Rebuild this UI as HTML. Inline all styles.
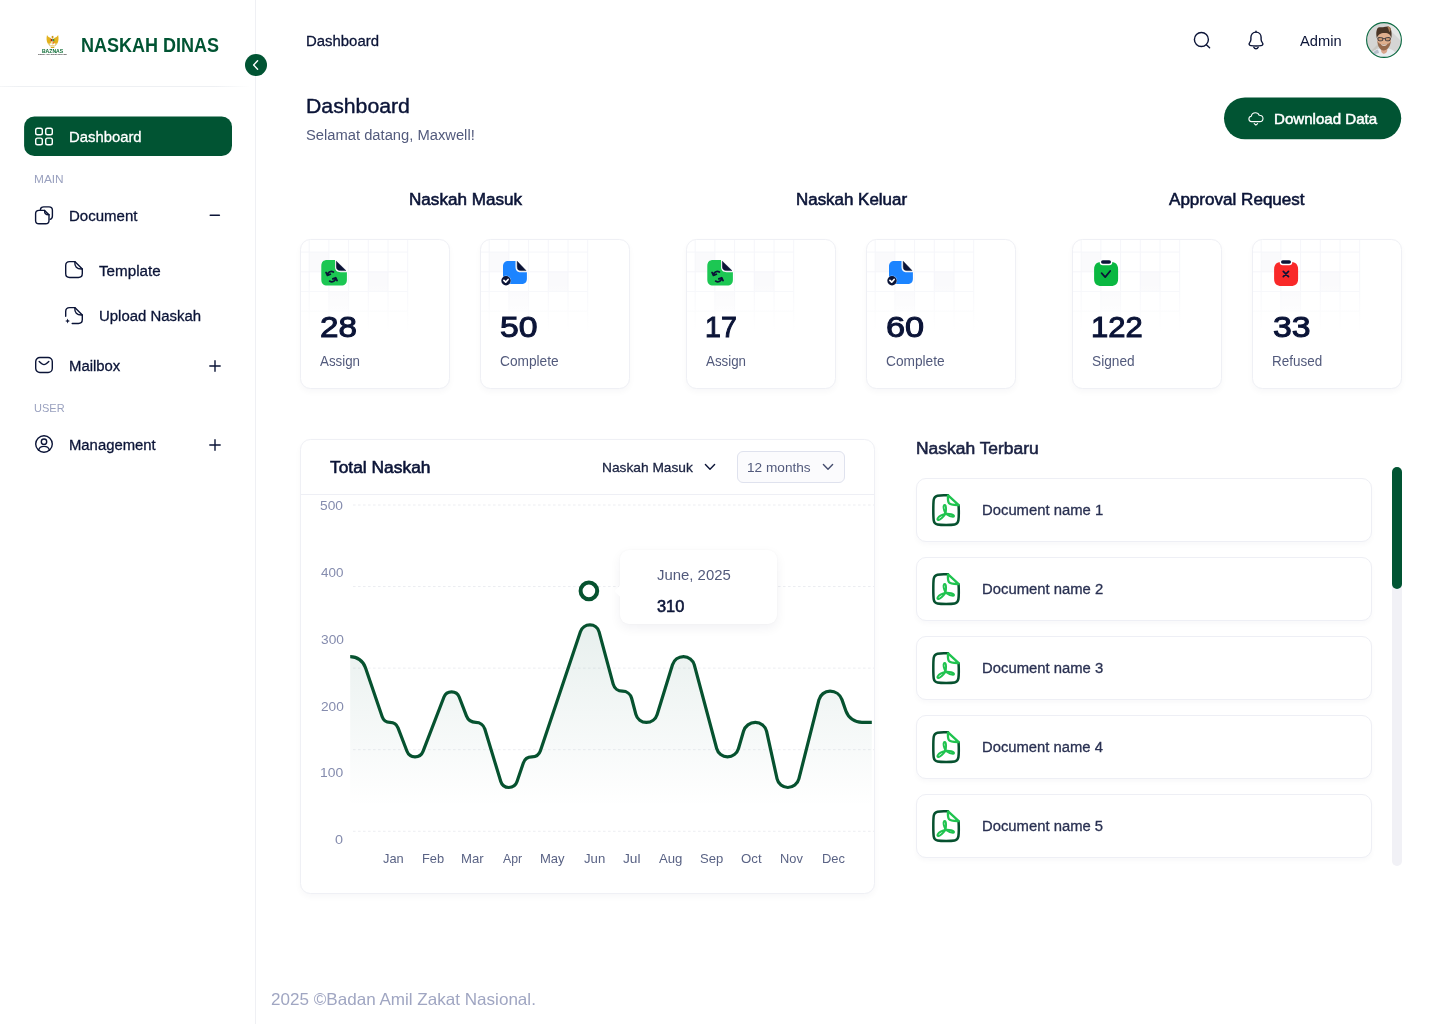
<!DOCTYPE html>
<html lang="id">
<head>
<meta charset="utf-8">
<title>Naskah Dinas - Dashboard</title>
<style>
*{box-sizing:border-box}
html,body{margin:0;padding:0;background:#fff}
body{width:1440px;height:1024px;position:relative;overflow:hidden;font-family:"Liberation Sans",sans-serif;-webkit-font-smoothing:antialiased}
.t{position:absolute;white-space:nowrap;margin:0;padding:0;transform-origin:0 0}
.a{position:absolute;display:block}
svg{position:absolute;overflow:visible}
.card{position:absolute;background:#fff;border:1px solid #eff0f5;border-radius:10.5px;box-shadow:0 3px 6px rgba(20,25,60,.03);overflow:hidden}
.item{position:absolute;left:916px;width:456px;height:64px;background:#fff;border:1px solid #eeeff5;border-radius:10px;box-shadow:0 3px 5px rgba(20,25,60,.028)}
</style>
</head>
<body>
<div class="a" style="left:255px;top:0;width:1px;height:1024px;background:#eff0f4"></div>
<div class="a" style="left:0;top:86px;width:250px;height:1px;background:linear-gradient(90deg,rgba(238,240,243,.6),#eef0f3 8%,#eef0f3 86%,rgba(238,240,243,0))"></div>
<svg style="left:37px;top:33px" width="31" height="24" viewBox="0 0 31 24">
<defs><filter id="lb" x="-20%" y="-20%" width="140%" height="140%"><feGaussianBlur stdDeviation=".28"/></filter></defs>
<g filter="url(#lb)">
<path d="M10 1.9 C10.7 3.4 12.2 4.5 13.9 5 L14.7 9.2 C13.6 10.7 11.9 11.1 10.7 10.5 C9.4 8 9.3 4.8 10 1.9 Z" fill="#e3b21b"/>
<path d="M21.1 1.9 C20.4 3.4 18.9 4.5 17.2 5 L16.4 9.2 C17.5 10.7 19.2 11.1 20.4 10.5 C21.7 8 21.8 4.8 21.1 1.9 Z" fill="#e3b21b"/>
<path d="M14.7 2.9 H16.4 V5.4 H14.7 Z" fill="#c9961a"/>
<path d="M12 10.6 L13.6 12.2 L12.9 12.9 L11.3 11.4 Z M19.1 10.6 L17.5 12.2 L18.2 12.9 L19.8 11.4 Z" fill="#d9c06a"/>
<path d="M13.5 12.6 H17.6 L17.2 15 H13.9 Z" fill="#d8aa1c"/>
<path d="M13.3 13.2 H17.8 V14 H13.3 Z" fill="#f3f1ea"/>
<path d="M13.8 5.9 H15.55 V8.4 H13.8 Z" fill="#b5121f"/>
<path d="M15.55 5.9 H17.3 V8.4 H15.55 Z" fill="#2f9a3c"/>
<path d="M13.8 8.4 H15.55 V11.4 C14.5 11 13.8 10.2 13.8 9.2 Z" fill="#f0e9a8"/>
<path d="M15.55 8.4 H17.3 V9.2 C17.3 10.2 16.6 11 15.55 11.4 Z" fill="#ee7a1c"/>
</g>
<text x="4.9" y="19.9" textLength="21.3" lengthAdjust="spacingAndGlyphs" font-family="Liberation Sans, sans-serif" font-weight="700" font-size="5.6" fill="#0a6a33">BAZNAS</text>
<text x="1" y="22.3" textLength="28.9" lengthAdjust="spacingAndGlyphs" font-family="Liberation Sans, sans-serif" font-weight="700" font-size="2.1" fill="#3b3b3b">Badan Amil Zakat Nasional</text>
</svg>
<div class="a" style="left:245px;top:54px;width:22px;height:22px;border-radius:50%;background:#015433"></div>
<svg style="left:245px;top:54px" width="22" height="22" viewBox="0 0 22 22"><path d="M12.6 6.8 L8.6 11 L12.6 15.2" fill="none" stroke="#fff" stroke-width="1.4" stroke-linecap="round" stroke-linejoin="round"/></svg>
<svg style="left:24px;top:116px" width="208" height="41" viewBox="0 0 208 41"><rect x="0.1" y="0.4" width="207.9" height="39.7" rx="10.3" fill="#015433"/></svg>
<svg style="left:34px;top:126px" width="20" height="20" viewBox="0 0 20 20" fill="none" stroke="#fff" stroke-width="1.4"><rect x="1.7" y="2.2" width="6.6" height="6.6" rx="1.8"/><rect x="11.7" y="2.2" width="6.6" height="6.6" rx="1.8"/><rect x="1.7" y="12.1" width="6.6" height="6.6" rx="1.8"/><rect x="11.7" y="12.1" width="6.6" height="6.6" rx="1.8"/></svg>
<svg style="left:34px;top:205px" width="20" height="20" viewBox="0 0 20 20" fill="none" stroke="#0b1437" stroke-width="1.4" stroke-linecap="round" stroke-linejoin="round"><path d="M6.4 4.6 C6.6 2.8 7.8 1.9 9.8 1.9 H15 C17.2 1.9 18.4 3.1 18.4 5.3 V11 C18.4 12.8 17.6 13.9 16.2 14.3"/><path d="M10.6 5.4 H5 C2.8 5.4 1.6 6.6 1.6 8.8 V15.4 C1.6 17.6 2.8 18.8 5 18.8 H11.6 C13.8 18.8 15 17.6 15 15.4 V9.8 Z"/><path d="M10.6 5.4 C10.4 8.6 11.6 9.9 15 9.8"/></svg>
<svg style="left:64px;top:260.4px" width="20" height="20" viewBox="0 0 20 20" fill="none" stroke="#0b1437" stroke-width="1.4" stroke-linecap="round" stroke-linejoin="round"><path d="M10.8 1.6 H5.6 C3 1.6 1.7 2.9 1.7 5.5 V13.6 C1.7 16.2 3 17.5 5.6 17.5 H14.4 C17 17.5 18.3 16.2 18.3 13.6 V9 Z"/><path d="M10.8 1.6 C10.5 6.6 12.6 9.3 18.3 9"/></svg>
<svg style="left:64px;top:306px" width="20" height="20" viewBox="0 0 20 20" fill="none" stroke="#0b1437" stroke-width="1.4" stroke-linecap="round" stroke-linejoin="round"><path d="M1.7 10.2 V5.5 C1.7 2.9 3 1.6 5.6 1.6 H10.8 L18.3 9 V13.6 C18.3 16.2 17 17.5 14.4 17.5 H8.2"/><path d="M10.8 1.6 C10.5 6.6 12.6 9.3 18.3 9"/><path d="M3.6 12.6 L4.3 14.3 L6 15 L4.3 15.7 L3.6 17.4 L2.9 15.7 L1.2 15 L2.9 14.3 Z" fill="#0b1437" stroke="none"/></svg>
<svg style="left:205px;top:206px" width="20" height="20" viewBox="0 0 20 20" fill="none" stroke="#0b1437" stroke-width="1.4" stroke-linecap="round"><path d="M5.2 9.2 H14.4"/></svg>
<svg style="left:204.8px;top:355.8px" width="20" height="20" viewBox="0 0 20 20" fill="none" stroke="#0b1437" stroke-width="1.4" stroke-linecap="round"><path d="M4.8 10 H15.2 M10 4.8 V15.2"/></svg>
<svg style="left:204.8px;top:434.5px" width="20" height="20" viewBox="0 0 20 20" fill="none" stroke="#0b1437" stroke-width="1.4" stroke-linecap="round"><path d="M4.8 10 H15.2 M10 4.8 V15.2"/></svg>
<svg style="left:34px;top:355.3px" width="20" height="20" viewBox="0 0 20 20" fill="none" stroke="#0b1437" stroke-width="1.4" stroke-linecap="round" stroke-linejoin="round"><rect x="1.7" y="2.5" width="16.6" height="15" rx="4.2"/><path d="M5.2 6.5 C7.4 8.6 8.6 9.6 10 9.6 C11.4 9.6 12.6 8.6 14.8 6.5"/></svg>
<svg style="left:34px;top:434.3px" width="20" height="20" viewBox="0 0 20 20" fill="none" stroke="#0b1437" stroke-width="1.4" stroke-linecap="round" stroke-linejoin="round"><circle cx="10" cy="10" r="8.3"/><circle cx="10" cy="7.7" r="2.7"/><path d="M4.6 16.2 C5.2 13.6 7.2 12.4 10 12.4 C12.8 12.4 14.8 13.6 15.4 16.2"/></svg>
<svg style="left:1192px;top:30px" width="20" height="20" viewBox="0 0 20 20" fill="none" stroke="#0b1437" stroke-width="1.4" stroke-linecap="round"><circle cx="9.4" cy="9.5" r="7"/><path d="M14.6 14.9 L17.6 17.7"/></svg>
<svg style="left:1246px;top:30px" width="20" height="20" viewBox="0 0 20 20" fill="none" stroke="#0b1437" stroke-width="1.4" stroke-linecap="round" stroke-linejoin="round"><path d="M10 2.1 C6.9 2.1 4.9 4.4 4.9 7.3 V9.6 C4.9 10.6 4.5 11.7 3.7 12.6 C2.6 13.9 3.1 15.4 4.8 15.6 C8.2 16.1 11.8 16.1 15.2 15.6 C16.9 15.4 17.4 13.9 16.3 12.6 C15.5 11.7 15.1 10.6 15.1 9.6 V7.3 C15.1 4.4 13.1 2.1 10 2.1 Z"/><path d="M10 1.2 V2.1"/><path d="M7.8 17.2 C8.3 18.3 9.1 18.7 10 18.7 C10.9 18.7 11.7 18.3 12.2 17.2"/></svg>
<svg style="left:1366px;top:22px" width="36" height="36" viewBox="0 0 36 36">
<defs><clipPath id="av"><circle cx="18" cy="18" r="17"/></clipPath><filter id="ab" x="-10%" y="-10%" width="120%" height="120%"><feGaussianBlur stdDeviation=".55"/></filter></defs>
<circle cx="18" cy="18" r="17.4" fill="#d6d6d5"/>
<g clip-path="url(#av)"><g filter="url(#ab)">
<rect x="-2" y="-2" width="40" height="40" fill="#d5d5d4"/>
<path d="M20 4 L36 20 V12 L26 2 Z" fill="#e4e6e5"/>
<path d="M4 30 L12 22 L13 24 L6 32 Z" fill="#c9c7c2"/>
<path d="M3 38 C4 30 9 27.2 14 26.4 H22 C27 27.2 31 30 32 38 Z" fill="#e9edf1"/>
<path d="M6 33 C7 30 9 28.4 12 27.6 L13 31 Z" fill="#b9c0cc"/>
<path d="M14.2 24 H21.6 L21.2 29 C20 32 17 33 15.4 30 Z" fill="#d9a58c"/>
<ellipse cx="18.1" cy="17.6" rx="6.9" ry="8.6" fill="#dfae8d"/>
<path d="M11.4 18.5 C11.4 25 14.4 28.2 17.6 28.4 C21 28.4 24.6 25.4 24.8 18.6 C24 21.4 22.2 22.4 18.2 22.4 C14.2 22.4 12.2 21.4 11.4 18.5 Z" fill="#8a5c40" opacity=".85"/>
<path d="M14.8 22.3 C16.4 24.4 19.6 24.4 21.4 22.2 C19.4 22.8 16.8 22.8 14.8 22.3 Z" fill="#f3e9e4"/>
<path d="M10.8 16.2 C9.6 10.6 10.6 6.8 12.4 5.6 C14 4.6 16 5.6 18 5 C20.4 4.2 23.6 3.8 24.6 6.4 C25.8 9.4 25.8 12.8 25.4 16 C24.4 12.6 22.6 10.8 18.4 10.9 C14.4 11 12 12.4 10.8 16.2 Z" fill="#4b3526"/>
<path d="M21 4.6 C22.6 4.2 24 4.8 24.6 6.4 C24.8 8 24.2 9.4 23.2 10 C22.8 8 22.2 6.2 21 4.6 Z" fill="#a87a55"/>
<path d="M11.8 15.9 C13.4 15.3 15.4 15.4 16.9 16.1 L16.7 18.4 C15.2 19 13.4 19 12.2 18.4 Z M19.3 16.1 C20.8 15.4 22.8 15.3 24.4 15.9 L24 18.4 C22.8 19 21 19 19.5 18.4 Z" fill="#c8956f" stroke="#33333a" stroke-width=".9"/>
<path d="M16.9 16.6 H19.3" stroke="#33333a" stroke-width=".8"/>
</g></g>
<circle cx="18" cy="18" r="17.4" fill="none" stroke="#0b6a42" stroke-width="1.1"/>
</svg>
<svg style="left:1224px;top:97px" width="178" height="43" viewBox="0 0 178 43"><rect x="0" y="0.4" width="177.2" height="41.9" rx="20.95" fill="#015433"/></svg>
<svg style="left:1247px;top:110px" width="18" height="18" viewBox="0 0 18 18" fill="none" stroke="#fff" stroke-width="1.1" stroke-linecap="round" stroke-linejoin="round"><path d="M4.6 11.6 C2.9 11.5 1.9 10.3 1.9 8.9 C1.9 7.5 2.9 6.4 4.3 6.2 C4.6 4.2 6.3 2.7 8.4 2.7 C10.1 2.7 11.6 3.7 12.2 5.2 C14.3 5.2 16 6.6 16 8.5 C16 10.3 14.6 11.6 12.7 11.6 Z"/><path d="M7.2 13.7 L8.9 15.2 L10.6 13.7"/></svg>
<div class="card" style="left:300px;top:239px;width:150px;height:150px"><svg style="left:-1px;top:-1px" width="150" height="150" viewBox="0 0 150 150">
<defs><linearGradient id="gf0" x1="0" y1="0" x2="0" y2="1"><stop offset="0" stop-color="#fff" stop-opacity="0"/><stop offset=".45" stop-color="#fff" stop-opacity="0"/><stop offset="1" stop-color="#fff" stop-opacity="1"/></linearGradient></defs>
<g fill="#fafafc"><rect x="9.2" y="13.1" width="19.7" height="19.7"/><rect x="68.3" y="32.8" width="19.7" height="19.7"/><rect x="28.9" y="52.5" width="19.7" height="19.7"/></g>
<g stroke="#f5f6fa" stroke-width="1" fill="none"><path d="M9.2 0V92M28.9 0V92M48.6 0V92M68.3 0V92M88 0V92M107.7 0V92"/><path d="M0 13.1H108M0 32.8H108M0 52.5H108M0 72.2H108"/></g>
<rect x="0" y="0" width="110" height="93" fill="url(#gf0)"/>
</svg><svg style="left:19px;top:18px" width="28" height="28" viewBox="0 0 28 28">
<path d="M7.3 2 H15 V8.6 C15 12.4 16.9 14.3 20.7 14.3 H26.9 V21.6 C26.9 25.6 24.9 27.6 20.9 27.6 H7.3 C3.3 27.6 1.3 25.6 1.3 21.6 V8 C1.3 4 3.3 2 7.3 2 Z" fill="#1cc753"/>
<path d="M16.3 3.2 L25.9 12.6 H20.6 C17.7 12.6 16.3 11.2 16.3 8.3 Z" fill="#0b1437" stroke="#0b1437" stroke-width=".5" stroke-linejoin="round"/>
<g fill="none" stroke="#0b1437" stroke-width="1.7" stroke-linecap="round" stroke-linejoin="round">
<path d="M13.4 14.1 C11.4 12.9 9.2 13.6 7.6 15.6"/><path d="M6 14.4 L7.4 17.4 L10.4 16.2" fill="#0b1437"/>
<path d="M9.6 23.1 C11.6 24.3 14 23.6 15.6 21.4"/><path d="M17.1 22.6 L15.7 19.7 L12.8 20.9" fill="#0b1437"/>
</g></svg></div>
<div class="card" style="left:480px;top:239px;width:150px;height:150px"><svg style="left:-1px;top:-1px" width="150" height="150" viewBox="0 0 150 150">
<defs><linearGradient id="gf1" x1="0" y1="0" x2="0" y2="1"><stop offset="0" stop-color="#fff" stop-opacity="0"/><stop offset=".45" stop-color="#fff" stop-opacity="0"/><stop offset="1" stop-color="#fff" stop-opacity="1"/></linearGradient></defs>
<g fill="#fafafc"><rect x="9.2" y="13.1" width="19.7" height="19.7"/><rect x="68.3" y="32.8" width="19.7" height="19.7"/><rect x="28.9" y="52.5" width="19.7" height="19.7"/></g>
<g stroke="#f5f6fa" stroke-width="1" fill="none"><path d="M9.2 0V92M28.9 0V92M48.6 0V92M68.3 0V92M88 0V92M107.7 0V92"/><path d="M0 13.1H108M0 32.8H108M0 52.5H108M0 72.2H108"/></g>
<rect x="0" y="0" width="110" height="93" fill="url(#gf1)"/>
</svg><svg style="left:19px;top:18px" width="28" height="28" viewBox="0 0 28 28">
<path d="M8.6 2.9 H15.5 V8.8 C15.5 12.5 17.3 14.3 21 14.3 H26.9 V20.5 C26.9 24.2 25 26.1 21.3 26.1 H8.6 C4.9 26.1 3 24.2 3 20.5 V8.5 C3 4.8 4.9 2.9 8.6 2.9 Z" fill="#1c84ff"/>
<path d="M17.2 3.3 L26 12.6 H21 C18.4 12.6 17.2 11.4 17.2 8.8 Z" fill="#0b1437" stroke="#0b1437" stroke-width=".5" stroke-linejoin="round"/>
<circle cx="6" cy="22.7" r="5.2" fill="#fff" opacity=".55"/>
<circle cx="6" cy="22.7" r="4.7" fill="#0b1437"/>
<path d="M3.9 22.3 L5.7 24.2 L8.1 21.5" fill="none" stroke="#fff" stroke-width="1.7" stroke-linecap="round" stroke-linejoin="round"/>
</svg></div>
<div class="card" style="left:686px;top:239px;width:150px;height:150px"><svg style="left:-1px;top:-1px" width="150" height="150" viewBox="0 0 150 150">
<defs><linearGradient id="gf2" x1="0" y1="0" x2="0" y2="1"><stop offset="0" stop-color="#fff" stop-opacity="0"/><stop offset=".45" stop-color="#fff" stop-opacity="0"/><stop offset="1" stop-color="#fff" stop-opacity="1"/></linearGradient></defs>
<g fill="#fafafc"><rect x="9.2" y="13.1" width="19.7" height="19.7"/><rect x="68.3" y="32.8" width="19.7" height="19.7"/><rect x="28.9" y="52.5" width="19.7" height="19.7"/></g>
<g stroke="#f5f6fa" stroke-width="1" fill="none"><path d="M9.2 0V92M28.9 0V92M48.6 0V92M68.3 0V92M88 0V92M107.7 0V92"/><path d="M0 13.1H108M0 32.8H108M0 52.5H108M0 72.2H108"/></g>
<rect x="0" y="0" width="110" height="93" fill="url(#gf2)"/>
</svg><svg style="left:19px;top:18px" width="28" height="28" viewBox="0 0 28 28">
<path d="M7.3 2 H15 V8.6 C15 12.4 16.9 14.3 20.7 14.3 H26.9 V21.6 C26.9 25.6 24.9 27.6 20.9 27.6 H7.3 C3.3 27.6 1.3 25.6 1.3 21.6 V8 C1.3 4 3.3 2 7.3 2 Z" fill="#1cc753"/>
<path d="M16.3 3.2 L25.9 12.6 H20.6 C17.7 12.6 16.3 11.2 16.3 8.3 Z" fill="#0b1437" stroke="#0b1437" stroke-width=".5" stroke-linejoin="round"/>
<g fill="none" stroke="#0b1437" stroke-width="1.7" stroke-linecap="round" stroke-linejoin="round">
<path d="M13.4 14.1 C11.4 12.9 9.2 13.6 7.6 15.6"/><path d="M6 14.4 L7.4 17.4 L10.4 16.2" fill="#0b1437"/>
<path d="M9.6 23.1 C11.6 24.3 14 23.6 15.6 21.4"/><path d="M17.1 22.6 L15.7 19.7 L12.8 20.9" fill="#0b1437"/>
</g></svg></div>
<div class="card" style="left:866px;top:239px;width:150px;height:150px"><svg style="left:-1px;top:-1px" width="150" height="150" viewBox="0 0 150 150">
<defs><linearGradient id="gf3" x1="0" y1="0" x2="0" y2="1"><stop offset="0" stop-color="#fff" stop-opacity="0"/><stop offset=".45" stop-color="#fff" stop-opacity="0"/><stop offset="1" stop-color="#fff" stop-opacity="1"/></linearGradient></defs>
<g fill="#fafafc"><rect x="9.2" y="13.1" width="19.7" height="19.7"/><rect x="68.3" y="32.8" width="19.7" height="19.7"/><rect x="28.9" y="52.5" width="19.7" height="19.7"/></g>
<g stroke="#f5f6fa" stroke-width="1" fill="none"><path d="M9.2 0V92M28.9 0V92M48.6 0V92M68.3 0V92M88 0V92M107.7 0V92"/><path d="M0 13.1H108M0 32.8H108M0 52.5H108M0 72.2H108"/></g>
<rect x="0" y="0" width="110" height="93" fill="url(#gf3)"/>
</svg><svg style="left:19px;top:18px" width="28" height="28" viewBox="0 0 28 28">
<path d="M8.6 2.9 H15.5 V8.8 C15.5 12.5 17.3 14.3 21 14.3 H26.9 V20.5 C26.9 24.2 25 26.1 21.3 26.1 H8.6 C4.9 26.1 3 24.2 3 20.5 V8.5 C3 4.8 4.9 2.9 8.6 2.9 Z" fill="#1c84ff"/>
<path d="M17.2 3.3 L26 12.6 H21 C18.4 12.6 17.2 11.4 17.2 8.8 Z" fill="#0b1437" stroke="#0b1437" stroke-width=".5" stroke-linejoin="round"/>
<circle cx="6" cy="22.7" r="5.2" fill="#fff" opacity=".55"/>
<circle cx="6" cy="22.7" r="4.7" fill="#0b1437"/>
<path d="M3.9 22.3 L5.7 24.2 L8.1 21.5" fill="none" stroke="#fff" stroke-width="1.7" stroke-linecap="round" stroke-linejoin="round"/>
</svg></div>
<div class="card" style="left:1072px;top:239px;width:150px;height:150px"><svg style="left:-1px;top:-1px" width="150" height="150" viewBox="0 0 150 150">
<defs><linearGradient id="gf4" x1="0" y1="0" x2="0" y2="1"><stop offset="0" stop-color="#fff" stop-opacity="0"/><stop offset=".45" stop-color="#fff" stop-opacity="0"/><stop offset="1" stop-color="#fff" stop-opacity="1"/></linearGradient></defs>
<g fill="#fafafc"><rect x="9.2" y="13.1" width="19.7" height="19.7"/><rect x="68.3" y="32.8" width="19.7" height="19.7"/><rect x="28.9" y="52.5" width="19.7" height="19.7"/></g>
<g stroke="#f5f6fa" stroke-width="1" fill="none"><path d="M9.2 0V92M28.9 0V92M48.6 0V92M68.3 0V92M88 0V92M107.7 0V92"/><path d="M0 13.1H108M0 32.8H108M0 52.5H108M0 72.2H108"/></g>
<rect x="0" y="0" width="110" height="93" fill="url(#gf4)"/>
</svg><svg style="left:19px;top:18px" width="28" height="28" viewBox="0 0 28 28">
<path d="M9.4 3.9 H18.8 C23.6 3.9 26.1 6.4 26.1 11.2 V20.7 C26.1 25.5 23.6 28 18.8 28 H9.4 C4.6 28 2.1 25.5 2.1 20.7 V11.2 C2.1 6.4 4.6 3.9 9.4 3.9 Z" fill="#0ab841"/>
<rect x="7.7" y="0.9" width="12.6" height="6.4" rx="3" fill="#fff"/>
<rect x="9" y="2.15" width="10" height="3.7" rx="1.8" fill="#0b1437"/>
<path d="M9.6 15.1 L13.2 19.1 L18.2 13" fill="none" stroke="#0b1437" stroke-width="1.7" stroke-linecap="round" stroke-linejoin="round"/></svg></div>
<div class="card" style="left:1252px;top:239px;width:150px;height:150px"><svg style="left:-1px;top:-1px" width="150" height="150" viewBox="0 0 150 150">
<defs><linearGradient id="gf5" x1="0" y1="0" x2="0" y2="1"><stop offset="0" stop-color="#fff" stop-opacity="0"/><stop offset=".45" stop-color="#fff" stop-opacity="0"/><stop offset="1" stop-color="#fff" stop-opacity="1"/></linearGradient></defs>
<g fill="#fafafc"><rect x="9.2" y="13.1" width="19.7" height="19.7"/><rect x="68.3" y="32.8" width="19.7" height="19.7"/><rect x="28.9" y="52.5" width="19.7" height="19.7"/></g>
<g stroke="#f5f6fa" stroke-width="1" fill="none"><path d="M9.2 0V92M28.9 0V92M48.6 0V92M68.3 0V92M88 0V92M107.7 0V92"/><path d="M0 13.1H108M0 32.8H108M0 52.5H108M0 72.2H108"/></g>
<rect x="0" y="0" width="110" height="93" fill="url(#gf5)"/>
</svg><svg style="left:19px;top:18px" width="28" height="28" viewBox="0 0 28 28">
<path d="M9.4 3.9 H18.8 C23.6 3.9 26.1 6.4 26.1 11.2 V20.7 C26.1 25.5 23.6 28 18.8 28 H9.4 C4.6 28 2.1 25.5 2.1 20.7 V11.2 C2.1 6.4 4.6 3.9 9.4 3.9 Z" fill="#f92929"/>
<rect x="7.7" y="0.9" width="12.6" height="6.4" rx="3" fill="#fff"/>
<rect x="9" y="2.15" width="10" height="3.7" rx="1.8" fill="#0b1437"/>
<path d="M11.3 13.4 L16.5 18.6 M16.5 13.4 L11.3 18.6" fill="none" stroke="#0b1437" stroke-width="1.7" stroke-linecap="round"/></svg></div>
<div class="card" style="left:300px;top:439px;width:575px;height:455px;overflow:visible"></div>
<div class="a" style="left:301px;top:494px;width:573px;height:1px;background:#eeeff5"></div>
<svg style="left:300px;top:439px" width="575" height="454" viewBox="0 0 575 454"><defs><linearGradient id="ar" x1="0" y1="0" x2="0" y2="1"><stop offset="0" stop-color="#0a5c48" stop-opacity=".095"/><stop offset=".88" stop-color="#0a5c48" stop-opacity="0"/></linearGradient><clipPath id="cc"><rect x="0" y="0" width="574" height="454"/></clipPath></defs><g stroke="#ecedf1" stroke-width="1" stroke-dasharray="2.6 2.4" clip-path="url(#cc)"><path d="M53 66.00H574"/><path d="M53 147.56H574"/><path d="M53 229.12H574"/><path d="M53 310.68H574"/><path d="M53 392.25H574"/></g><path d="M50.20 217.60 L50.25 217.60 A16.00 16.00 0 0 1 65.39 228.44 L82.20 277.81 A8.24 8.24 0 0 0 90.00 283.40 L90.00 283.40 A8.58 8.58 0 0 1 98.01 288.91 L106.99 312.29 A8.58 8.58 0 0 0 115.00 317.80 L115.00 317.80 A8.60 8.60 0 0 0 123.03 312.30 L143.98 258.02 A8.17 8.17 0 0 1 151.60 252.80 L151.60 252.80 A8.14 8.14 0 0 1 159.20 258.03 L166.42 276.91 A10.10 10.10 0 0 0 175.85 283.40 L175.85 283.40 A9.38 9.38 0 0 1 184.82 290.05 L200.79 342.54 A8.40 8.40 0 0 0 208.82 348.50 L208.82 348.50 A8.67 8.67 0 0 0 217.04 342.60 L223.33 323.94 A9.02 9.02 0 0 1 231.88 317.80 L231.88 317.80 A9.01 9.01 0 0 0 240.41 311.66 L280.39 192.67 A10.08 10.08 0 0 1 289.95 185.80 L289.95 185.80 A9.46 9.46 0 0 1 299.09 192.80 L313.19 245.13 A9.56 9.56 0 0 0 322.43 252.20 L322.43 252.20 A9.51 9.51 0 0 1 331.62 259.28 L335.87 275.33 A10.84 10.84 0 0 0 346.35 283.40 L346.35 283.40 A11.31 11.31 0 0 0 357.16 275.42 L372.48 225.77 A11.59 11.59 0 0 1 383.55 217.60 L383.55 217.60 A11.14 11.14 0 0 1 394.31 225.86 L416.68 309.49 A11.20 11.20 0 0 0 427.50 317.80 L427.50 317.80 A11.46 11.46 0 0 0 438.50 309.54 L443.52 292.28 A12.32 12.32 0 0 1 455.35 283.40 L455.35 283.40 A11.52 11.52 0 0 1 466.60 292.43 L477.09 339.86 A11.02 11.02 0 0 0 487.85 348.50 L487.85 348.50 A11.37 11.37 0 0 0 498.87 339.92 L518.90 260.88 A11.50 11.50 0 0 1 530.05 252.20 L530.05 252.20 A12.61 12.61 0 0 1 541.95 260.65 L545.92 272.01 A17.00 17.00 0 0 0 561.97 283.40 L571.80 283.40 L571.80 392.50 L50.20 392.50 Z" fill="url(#ar)"/><path d="M50.20 217.60 L50.25 217.60 A16.00 16.00 0 0 1 65.39 228.44 L82.20 277.81 A8.24 8.24 0 0 0 90.00 283.40 L90.00 283.40 A8.58 8.58 0 0 1 98.01 288.91 L106.99 312.29 A8.58 8.58 0 0 0 115.00 317.80 L115.00 317.80 A8.60 8.60 0 0 0 123.03 312.30 L143.98 258.02 A8.17 8.17 0 0 1 151.60 252.80 L151.60 252.80 A8.14 8.14 0 0 1 159.20 258.03 L166.42 276.91 A10.10 10.10 0 0 0 175.85 283.40 L175.85 283.40 A9.38 9.38 0 0 1 184.82 290.05 L200.79 342.54 A8.40 8.40 0 0 0 208.82 348.50 L208.82 348.50 A8.67 8.67 0 0 0 217.04 342.60 L223.33 323.94 A9.02 9.02 0 0 1 231.88 317.80 L231.88 317.80 A9.01 9.01 0 0 0 240.41 311.66 L280.39 192.67 A10.08 10.08 0 0 1 289.95 185.80 L289.95 185.80 A9.46 9.46 0 0 1 299.09 192.80 L313.19 245.13 A9.56 9.56 0 0 0 322.43 252.20 L322.43 252.20 A9.51 9.51 0 0 1 331.62 259.28 L335.87 275.33 A10.84 10.84 0 0 0 346.35 283.40 L346.35 283.40 A11.31 11.31 0 0 0 357.16 275.42 L372.48 225.77 A11.59 11.59 0 0 1 383.55 217.60 L383.55 217.60 A11.14 11.14 0 0 1 394.31 225.86 L416.68 309.49 A11.20 11.20 0 0 0 427.50 317.80 L427.50 317.80 A11.46 11.46 0 0 0 438.50 309.54 L443.52 292.28 A12.32 12.32 0 0 1 455.35 283.40 L455.35 283.40 A11.52 11.52 0 0 1 466.60 292.43 L477.09 339.86 A11.02 11.02 0 0 0 487.85 348.50 L487.85 348.50 A11.37 11.37 0 0 0 498.87 339.92 L518.90 260.88 A11.50 11.50 0 0 1 530.05 252.20 L530.05 252.20 A12.61 12.61 0 0 1 541.95 260.65 L545.92 272.01 A17.00 17.00 0 0 0 561.97 283.40 L571.80 283.40" fill="none" stroke="#06522f" stroke-width="3.2" stroke-linecap="butt" stroke-linejoin="round"/><circle cx="288.9" cy="151.9" r="8.3" fill="#fff" stroke="#06522f" stroke-width="4"/></svg>
<svg style="left:704px;top:461px" width="12" height="12" viewBox="0 0 12 12" fill="none" stroke="#0b1437" stroke-width="1.4" stroke-linecap="round" stroke-linejoin="round"><path d="M1.4 3.6 L6 8.2 L10.6 3.6"/></svg>
<div class="a" style="left:737px;top:451px;width:108px;height:32px;border:1px solid #dfe2ee;border-radius:6px;background:#fbfbfd"></div>
<svg style="left:822px;top:461px" width="12" height="12" viewBox="0 0 12 12" fill="none" stroke="#454d6e" stroke-width="1.4" stroke-linecap="round" stroke-linejoin="round"><path d="M1.4 3.6 L6 8.2 L10.6 3.6"/></svg>
<div class="a" style="left:620px;top:550px;width:157px;height:74px;border-radius:9px;background:#fff;box-shadow:0 4px 12px rgba(20,25,60,.06),0 0 2px rgba(20,25,60,.04)"></div>
<svg style="left:613px;top:582px" width="9" height="18" viewBox="0 0 9 18"><path d="M8.5 2 L2 8 C1.4 8.6 1.4 9.4 2 10 L8.5 16 Z" fill="#fff"/></svg>
<div class="item" style="top:478px"><svg style="left:14.9px;top:14.7px" width="29.1" height="33" viewBox="0 0 30 34">
<path d="M16.5 1.3 C12 1.1 8 1.2 5.6 1.7 C3.4 2.2 2.2 3.5 1.8 5.8 C1.2 9.6 1.2 23.6 1.8 27.4 C2.2 29.7 3.4 31 5.6 31.4 C9.4 32.1 19.6 32.1 23.4 31.4 C25.6 31 26.8 29.7 27.2 27.4 C27.6 24.6 27.7 17 27.4 11.6" fill="none" stroke="#06512f" stroke-width="2.6" stroke-linecap="round"/>
<path d="M16.6 1.5 C16.2 5.6 16.4 7.8 17.4 9.2 C18.8 11 21.6 11.4 27.3 11.3 Z" fill="#fff" stroke="#1fc34f" stroke-width="2.4" stroke-linejoin="round"/>
<g fill="none" stroke="#1fc34f" stroke-width="2" stroke-linecap="round" stroke-linejoin="round">
<path d="M14 20.4 C12.2 16.6 11.6 13.4 12.2 12 C12.6 11 13.6 11 14 12 C14.6 13.6 14.6 16.8 14 20.4 Z"/>
<path d="M14 20.4 C11.2 24 8.4 26.4 6.8 26.8 C5.6 27 5.2 26 5.9 25 C7 23.4 10.2 21.4 14 20.4 Z"/>
<path d="M14 20.4 C18 20.2 21 20.8 22.2 21.8 C23.1 22.6 22.7 23.6 21.5 23.5 C19.8 23.4 16.8 22.4 14 20.4 Z"/>
</g></svg></div>
<div class="item" style="top:557px"><svg style="left:14.9px;top:14.7px" width="29.1" height="33" viewBox="0 0 30 34">
<path d="M16.5 1.3 C12 1.1 8 1.2 5.6 1.7 C3.4 2.2 2.2 3.5 1.8 5.8 C1.2 9.6 1.2 23.6 1.8 27.4 C2.2 29.7 3.4 31 5.6 31.4 C9.4 32.1 19.6 32.1 23.4 31.4 C25.6 31 26.8 29.7 27.2 27.4 C27.6 24.6 27.7 17 27.4 11.6" fill="none" stroke="#06512f" stroke-width="2.6" stroke-linecap="round"/>
<path d="M16.6 1.5 C16.2 5.6 16.4 7.8 17.4 9.2 C18.8 11 21.6 11.4 27.3 11.3 Z" fill="#fff" stroke="#1fc34f" stroke-width="2.4" stroke-linejoin="round"/>
<g fill="none" stroke="#1fc34f" stroke-width="2" stroke-linecap="round" stroke-linejoin="round">
<path d="M14 20.4 C12.2 16.6 11.6 13.4 12.2 12 C12.6 11 13.6 11 14 12 C14.6 13.6 14.6 16.8 14 20.4 Z"/>
<path d="M14 20.4 C11.2 24 8.4 26.4 6.8 26.8 C5.6 27 5.2 26 5.9 25 C7 23.4 10.2 21.4 14 20.4 Z"/>
<path d="M14 20.4 C18 20.2 21 20.8 22.2 21.8 C23.1 22.6 22.7 23.6 21.5 23.5 C19.8 23.4 16.8 22.4 14 20.4 Z"/>
</g></svg></div>
<div class="item" style="top:636px"><svg style="left:14.9px;top:14.7px" width="29.1" height="33" viewBox="0 0 30 34">
<path d="M16.5 1.3 C12 1.1 8 1.2 5.6 1.7 C3.4 2.2 2.2 3.5 1.8 5.8 C1.2 9.6 1.2 23.6 1.8 27.4 C2.2 29.7 3.4 31 5.6 31.4 C9.4 32.1 19.6 32.1 23.4 31.4 C25.6 31 26.8 29.7 27.2 27.4 C27.6 24.6 27.7 17 27.4 11.6" fill="none" stroke="#06512f" stroke-width="2.6" stroke-linecap="round"/>
<path d="M16.6 1.5 C16.2 5.6 16.4 7.8 17.4 9.2 C18.8 11 21.6 11.4 27.3 11.3 Z" fill="#fff" stroke="#1fc34f" stroke-width="2.4" stroke-linejoin="round"/>
<g fill="none" stroke="#1fc34f" stroke-width="2" stroke-linecap="round" stroke-linejoin="round">
<path d="M14 20.4 C12.2 16.6 11.6 13.4 12.2 12 C12.6 11 13.6 11 14 12 C14.6 13.6 14.6 16.8 14 20.4 Z"/>
<path d="M14 20.4 C11.2 24 8.4 26.4 6.8 26.8 C5.6 27 5.2 26 5.9 25 C7 23.4 10.2 21.4 14 20.4 Z"/>
<path d="M14 20.4 C18 20.2 21 20.8 22.2 21.8 C23.1 22.6 22.7 23.6 21.5 23.5 C19.8 23.4 16.8 22.4 14 20.4 Z"/>
</g></svg></div>
<div class="item" style="top:715px"><svg style="left:14.9px;top:14.7px" width="29.1" height="33" viewBox="0 0 30 34">
<path d="M16.5 1.3 C12 1.1 8 1.2 5.6 1.7 C3.4 2.2 2.2 3.5 1.8 5.8 C1.2 9.6 1.2 23.6 1.8 27.4 C2.2 29.7 3.4 31 5.6 31.4 C9.4 32.1 19.6 32.1 23.4 31.4 C25.6 31 26.8 29.7 27.2 27.4 C27.6 24.6 27.7 17 27.4 11.6" fill="none" stroke="#06512f" stroke-width="2.6" stroke-linecap="round"/>
<path d="M16.6 1.5 C16.2 5.6 16.4 7.8 17.4 9.2 C18.8 11 21.6 11.4 27.3 11.3 Z" fill="#fff" stroke="#1fc34f" stroke-width="2.4" stroke-linejoin="round"/>
<g fill="none" stroke="#1fc34f" stroke-width="2" stroke-linecap="round" stroke-linejoin="round">
<path d="M14 20.4 C12.2 16.6 11.6 13.4 12.2 12 C12.6 11 13.6 11 14 12 C14.6 13.6 14.6 16.8 14 20.4 Z"/>
<path d="M14 20.4 C11.2 24 8.4 26.4 6.8 26.8 C5.6 27 5.2 26 5.9 25 C7 23.4 10.2 21.4 14 20.4 Z"/>
<path d="M14 20.4 C18 20.2 21 20.8 22.2 21.8 C23.1 22.6 22.7 23.6 21.5 23.5 C19.8 23.4 16.8 22.4 14 20.4 Z"/>
</g></svg></div>
<div class="item" style="top:794px"><svg style="left:14.9px;top:14.7px" width="29.1" height="33" viewBox="0 0 30 34">
<path d="M16.5 1.3 C12 1.1 8 1.2 5.6 1.7 C3.4 2.2 2.2 3.5 1.8 5.8 C1.2 9.6 1.2 23.6 1.8 27.4 C2.2 29.7 3.4 31 5.6 31.4 C9.4 32.1 19.6 32.1 23.4 31.4 C25.6 31 26.8 29.7 27.2 27.4 C27.6 24.6 27.7 17 27.4 11.6" fill="none" stroke="#06512f" stroke-width="2.6" stroke-linecap="round"/>
<path d="M16.6 1.5 C16.2 5.6 16.4 7.8 17.4 9.2 C18.8 11 21.6 11.4 27.3 11.3 Z" fill="#fff" stroke="#1fc34f" stroke-width="2.4" stroke-linejoin="round"/>
<g fill="none" stroke="#1fc34f" stroke-width="2" stroke-linecap="round" stroke-linejoin="round">
<path d="M14 20.4 C12.2 16.6 11.6 13.4 12.2 12 C12.6 11 13.6 11 14 12 C14.6 13.6 14.6 16.8 14 20.4 Z"/>
<path d="M14 20.4 C11.2 24 8.4 26.4 6.8 26.8 C5.6 27 5.2 26 5.9 25 C7 23.4 10.2 21.4 14 20.4 Z"/>
<path d="M14 20.4 C18 20.2 21 20.8 22.2 21.8 C23.1 22.6 22.7 23.6 21.5 23.5 C19.8 23.4 16.8 22.4 14 20.4 Z"/>
</g></svg></div>
<div class="a" style="left:1392px;top:467px;width:10px;height:399px;border-radius:5px;background:#f1f1f6"></div>
<div class="a" style="left:1392px;top:467px;width:10px;height:122px;border-radius:5px;background:#015433"></div>
<div class="t" id="t0" style="left:80.78px;top:36.00px;font-size:19.8px;line-height:19.8px;font-weight:700;color:#015433;transform:scaleX(0.9098);">NASKAH DINAS</div>
<div class="t" id="t1" style="left:69.48px;top:129.00px;font-size:15.1px;line-height:15.1px;font-weight:400;color:#ffffff;-webkit-text-stroke:0.3px #ffffff;transform:scaleX(0.9835);">Dashboard</div>
<div class="t" id="t2" style="left:34.42px;top:173.00px;font-size:11.6px;line-height:11.6px;font-weight:400;color:#9aa1bf;transform:scaleX(1.0240);">MAIN</div>
<div class="t" id="t3" style="left:69.46px;top:208.00px;font-size:15.1px;line-height:15.1px;font-weight:400;color:#0b1437;-webkit-text-stroke:0.3px #0b1437;transform:scaleX(0.9948);">Document</div>
<div class="t" id="t4" style="left:99.19px;top:263.00px;font-size:15.1px;line-height:15.1px;font-weight:400;color:#0b1437;-webkit-text-stroke:0.3px #0b1437;transform:scaleX(1.0062);">Template</div>
<div class="t" id="t5" style="left:98.81px;top:308.00px;font-size:15.1px;line-height:15.1px;font-weight:400;color:#0b1437;-webkit-text-stroke:0.3px #0b1437;transform:scaleX(0.9880);">Upload Naskah</div>
<div class="t" id="t6" style="left:69.47px;top:358.00px;font-size:15.1px;line-height:15.1px;font-weight:400;color:#0b1437;-webkit-text-stroke:0.3px #0b1437;transform:scaleX(0.9866);">Mailbox</div>
<div class="t" id="t7" style="left:33.75px;top:402.00px;font-size:11.6px;line-height:11.6px;font-weight:400;color:#9aa1bf;transform:scaleX(0.9493);">USER</div>
<div class="t" id="t8" style="left:69.48px;top:437.00px;font-size:15.1px;line-height:15.1px;font-weight:400;color:#0b1437;-webkit-text-stroke:0.3px #0b1437;transform:scaleX(0.9836);">Management</div>
<div class="t" id="t9" style="left:305.63px;top:34.00px;font-size:14.0px;line-height:14.0px;font-weight:400;color:#0b1437;-webkit-text-stroke:0.28px #0b1437;transform:scaleX(1.0653);">Dashboard</div>
<div class="t" id="t10" style="left:1300.24px;top:34.00px;font-size:14.0px;line-height:14.0px;font-weight:400;color:#0b1437;transform:scaleX(1.0491);">Admin</div>
<div class="t" id="t11" style="left:306.44px;top:97.00px;font-size:19.7px;line-height:19.7px;font-weight:400;color:#0b1437;-webkit-text-stroke:0.39px #0b1437;transform:scaleX(1.0785);">Dashboard</div>
<div class="t" id="t12" style="left:306.18px;top:128.00px;font-size:14.0px;line-height:14.0px;font-weight:400;color:#525a7c;transform:scaleX(1.0528);">Selamat datang, Maxwell!</div>
<div class="t" id="t13" style="left:1273.52px;top:112.00px;font-size:14.5px;line-height:14.5px;font-weight:400;color:#ffffff;-webkit-text-stroke:0.49px #ffffff;transform:scaleX(1.0398);">Download Data</div>
<div class="t" id="t14" style="left:408.62px;top:191.00px;font-size:16.3px;line-height:16.3px;font-weight:400;color:#0b1437;-webkit-text-stroke:0.55px #0b1437;transform:scaleX(1.0496);">Naskah Masuk</div>
<div class="t" id="t15" style="left:796.03px;top:191.00px;font-size:16.3px;line-height:16.3px;font-weight:400;color:#0b1437;-webkit-text-stroke:0.55px #0b1437;transform:scaleX(1.0396);">Naskah Keluar</div>
<div class="t" id="t16" style="left:1168.79px;top:191.00px;font-size:16.3px;line-height:16.3px;font-weight:400;color:#0b1437;-webkit-text-stroke:0.55px #0b1437;transform:scaleX(1.0478);">Approval Request</div>
<div class="t" id="t17" style="left:319.79px;top:312.00px;font-size:30.0px;line-height:30.0px;font-weight:400;color:#0b1437;-webkit-text-stroke:1.02px #0b1437;transform:scaleX(1.1062);">28</div>
<div class="t" id="t18" style="left:320.16px;top:354.00px;font-size:14.0px;line-height:14.0px;font-weight:400;color:#525a7c;transform:scaleX(0.9517);">Assign</div>
<div class="t" id="t19" style="left:499.99px;top:312.00px;font-size:30.0px;line-height:30.0px;font-weight:400;color:#0b1437;-webkit-text-stroke:1.02px #0b1437;transform:scaleX(1.1258);">50</div>
<div class="t" id="t20" style="left:499.65px;top:354.00px;font-size:14.0px;line-height:14.0px;font-weight:400;color:#525a7c;transform:scaleX(0.9793);">Complete</div>
<div class="t" id="t21" style="left:705.21px;top:312.00px;font-size:30.0px;line-height:30.0px;font-weight:400;color:#0b1437;-webkit-text-stroke:1.02px #0b1437;transform:scaleX(0.9527);">17</div>
<div class="t" id="t22" style="left:706.16px;top:354.00px;font-size:14.0px;line-height:14.0px;font-weight:400;color:#525a7c;transform:scaleX(0.9517);">Assign</div>
<div class="t" id="t23" style="left:885.72px;top:312.00px;font-size:30.0px;line-height:30.0px;font-weight:400;color:#0b1437;-webkit-text-stroke:1.02px #0b1437;transform:scaleX(1.1435);">60</div>
<div class="t" id="t24" style="left:885.65px;top:354.00px;font-size:14.0px;line-height:14.0px;font-weight:400;color:#525a7c;transform:scaleX(0.9793);">Complete</div>
<div class="t" id="t25" style="left:1091.07px;top:312.00px;font-size:30.0px;line-height:30.0px;font-weight:400;color:#0b1437;-webkit-text-stroke:1.02px #0b1437;transform:scaleX(1.0323);">122</div>
<div class="t" id="t26" style="left:1091.55px;top:354.00px;font-size:14.0px;line-height:14.0px;font-weight:400;color:#525a7c;transform:scaleX(0.9779);">Signed</div>
<div class="t" id="t27" style="left:1273.05px;top:312.00px;font-size:30.0px;line-height:30.0px;font-weight:400;color:#0b1437;-webkit-text-stroke:1.02px #0b1437;transform:scaleX(1.1267);">33</div>
<div class="t" id="t28" style="left:1272.17px;top:354.00px;font-size:14.0px;line-height:14.0px;font-weight:400;color:#525a7c;transform:scaleX(0.9622);">Refused</div>
<div class="t" id="t29" style="left:330.25px;top:459.00px;font-size:16.5px;line-height:16.5px;font-weight:400;color:#0b1437;-webkit-text-stroke:0.56px #0b1437;transform:scaleX(1.0532);">Total Naskah</div>
<div class="t" id="t30" style="left:601.51px;top:461.00px;font-size:13.5px;line-height:13.5px;font-weight:400;color:#18203f;-webkit-text-stroke:0.27px #18203f;transform:scaleX(1.0177);">Naskah Masuk</div>
<div class="t" id="t31" style="left:747.35px;top:461.00px;font-size:13.5px;line-height:13.5px;font-weight:400;color:#525a7c;transform:scaleX(1.0102);">12 months</div>
<div class="t" id="t32" style="left:320.46px;top:500.00px;font-size:12.4px;line-height:12.4px;font-weight:400;color:#858cae;transform:scaleX(1.1098);">500</div>
<div class="t" id="t33" style="left:320.98px;top:567.00px;font-size:12.4px;line-height:12.4px;font-weight:400;color:#858cae;transform:scaleX(1.0841);">400</div>
<div class="t" id="t34" style="left:320.51px;top:634.00px;font-size:12.4px;line-height:12.4px;font-weight:400;color:#858cae;transform:scaleX(1.1076);">300</div>
<div class="t" id="t35" style="left:320.59px;top:701.00px;font-size:12.4px;line-height:12.4px;font-weight:400;color:#858cae;transform:scaleX(1.1033);">200</div>
<div class="t" id="t36" style="left:320.25px;top:767.00px;font-size:12.4px;line-height:12.4px;font-weight:400;color:#858cae;transform:scaleX(1.1202);">100</div>
<div class="t" id="t37" style="left:335.39px;top:834.00px;font-size:12.4px;line-height:12.4px;font-weight:400;color:#858cae;transform:scaleX(1.1614);">0</div>
<div class="t" id="t38" style="left:383.47px;top:853.00px;font-size:12.4px;line-height:12.4px;font-weight:400;color:#5a6385;transform:scaleX(1.0360);">Jan</div>
<div class="t" id="t39" style="left:421.74px;top:853.00px;font-size:12.4px;line-height:12.4px;font-weight:400;color:#5a6385;transform:scaleX(1.0349);">Feb</div>
<div class="t" id="t40" style="left:461.27px;top:853.00px;font-size:12.4px;line-height:12.4px;font-weight:400;color:#5a6385;transform:scaleX(1.0619);">Mar</div>
<div class="t" id="t41" style="left:503.06px;top:853.00px;font-size:12.4px;line-height:12.4px;font-weight:400;color:#5a6385;transform:scaleX(0.9881);">Apr</div>
<div class="t" id="t42" style="left:540.48px;top:853.00px;font-size:12.4px;line-height:12.4px;font-weight:400;color:#5a6385;transform:scaleX(1.0528);">May</div>
<div class="t" id="t43" style="left:583.70px;top:853.00px;font-size:12.4px;line-height:12.4px;font-weight:400;color:#5a6385;transform:scaleX(1.0629);">Jun</div>
<div class="t" id="t44" style="left:623.48px;top:853.00px;font-size:12.4px;line-height:12.4px;font-weight:400;color:#5a6385;transform:scaleX(1.1087);">Jul</div>
<div class="t" id="t45" style="left:658.99px;top:853.00px;font-size:12.4px;line-height:12.4px;font-weight:400;color:#5a6385;transform:scaleX(1.0633);">Aug</div>
<div class="t" id="t46" style="left:699.81px;top:853.00px;font-size:12.4px;line-height:12.4px;font-weight:400;color:#5a6385;transform:scaleX(1.0536);">Sep</div>
<div class="t" id="t47" style="left:740.88px;top:853.00px;font-size:12.4px;line-height:12.4px;font-weight:400;color:#5a6385;transform:scaleX(1.0677);">Oct</div>
<div class="t" id="t48" style="left:780.10px;top:853.00px;font-size:12.4px;line-height:12.4px;font-weight:400;color:#5a6385;transform:scaleX(1.0341);">Nov</div>
<div class="t" id="t49" style="left:821.74px;top:853.00px;font-size:12.4px;line-height:12.4px;font-weight:400;color:#5a6385;transform:scaleX(1.0408);">Dec</div>
<div class="t" id="t50" style="left:657.34px;top:568.00px;font-size:14.0px;line-height:14.0px;font-weight:400;color:#525a7c;transform:scaleX(1.0643);">June, 2025</div>
<div class="t" id="t51" style="left:656.95px;top:598.00px;font-size:16.2px;line-height:16.2px;font-weight:400;color:#0b1437;-webkit-text-stroke:0.55px #0b1437;transform:scaleX(1.0131);">310</div>
<div class="t" id="t52" style="left:916.18px;top:441.00px;font-size:16.0px;line-height:16.0px;font-weight:400;color:#1a2142;-webkit-text-stroke:0.54px #1a2142;transform:scaleX(1.0895);">Naskah Terbaru</div>
<div class="t" id="t53" style="left:982.49px;top:502.00px;font-size:15.4px;line-height:15.4px;font-weight:400;color:#2a3152;-webkit-text-stroke:0.31px #2a3152;transform:scaleX(0.9637);">Document name 1</div>
<div class="t" id="t54" style="left:982.48px;top:581.00px;font-size:15.4px;line-height:15.4px;font-weight:400;color:#2a3152;-webkit-text-stroke:0.31px #2a3152;transform:scaleX(0.9642);">Document name 2</div>
<div class="t" id="t55" style="left:982.48px;top:660.00px;font-size:15.4px;line-height:15.4px;font-weight:400;color:#2a3152;-webkit-text-stroke:0.31px #2a3152;transform:scaleX(0.9639);">Document name 3</div>
<div class="t" id="t56" style="left:982.49px;top:739.00px;font-size:15.4px;line-height:15.4px;font-weight:400;color:#2a3152;-webkit-text-stroke:0.31px #2a3152;transform:scaleX(0.9612);">Document name 4</div>
<div class="t" id="t57" style="left:982.49px;top:818.00px;font-size:15.4px;line-height:15.4px;font-weight:400;color:#2a3152;-webkit-text-stroke:0.31px #2a3152;transform:scaleX(0.9631);">Document name 5</div>
<div class="t" id="t58" style="left:270.74px;top:991.00px;font-size:16.5px;line-height:16.5px;font-weight:400;color:#a0a6c2;transform:scaleX(1.0342);">2025 ©Badan Amil Zakat Nasional.</div>
</body>
</html>
